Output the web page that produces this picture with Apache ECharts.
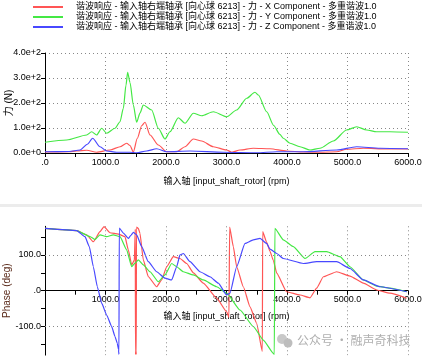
<!DOCTYPE html>
<html><head><meta charset="utf-8">
<script src="https://cdn.jsdelivr.net/npm/echarts@6/dist/echarts.min.js"></script>
<style>html,body{margin:0;padding:0;background:#fff}#c{width:422px;height:358px}</style>
</head><body><div id="c"></div>
<script>
// ---- data ----
const seriesNames = [
  '谐波响应 - 输入轴右端轴承 [向心球 6213] - 力 - X Component - 多重谐波1.0',
  '谐波响应 - 输入轴右端轴承 [向心球 6213] - 力 - Y Component - 多重谐波1.0',
  '谐波响应 - 输入轴右端轴承 [向心球 6213] - 力 - Z Component - 多重谐波1.0'
];
const xAxisName = '输入轴 [input_shaft_rotor] (rpm)';
const forceAxisName = '力 (N)';
const phaseAxisName = 'Phase (deg)';
// force [rpm, N]
const forceX = [[0,4],[400,5],[524,8],[690,11],[854,3],[1074,12],[1240,25],[1350,39],[1405,30],[1460,4],[1526,59],[1600,110],[1653,123],[1736,72],[1873,32],[2011,5],[2177,5],[2314,25],[2452,56],[2590,48],[2782,25],[3003,12],[3086,3],[3223,12],[3443,19],[3719,17],[3994,8],[4270,4],[4545,3],[4821,5],[4986,15],[5262,19],[5648,16],[6000,16]];
const forceY = [[0,43],[358,52],[689,72],[771,85],[854,72],[937,99],[1019,79],[1157,99],[1240,125],[1295,179],[1339,272],[1366,323],[1405,282],[1460,192],[1515,123],[1570,160],[1625,192],[1763,172],[1873,99],[1983,56],[2066,85],[2204,141],[2314,119],[2452,159],[2590,149],[2782,165],[3003,145],[3168,172],[3334,219],[3471,243],[3526,232],[3664,165],[3780,110],[3880,75],[3939,59],[4050,39],[4215,25],[4380,12],[4545,19],[4766,48],[4986,92],[5152,105],[5317,92],[5482,85],[5702,85],[6000,83]];
const forceZ = [[0,5],[400,6],[578,12],[700,35],[788,59],[909,25],[1019,8],[1185,3],[1400,3],[1515,1],[1680,8],[1845,17],[2011,5],[2397,8],[2948,3],[3498,1],[3830,5],[4270,5],[4821,12],[5152,25],[5538,19],[6000,17]];
// phase [rpm, deg]
const phaseX = [[0,174],[524,168],[689,156],[799,137],[909,165],[975,179],[1074,162],[1212,158],[1322,151],[1377,114],[1433,72],[1477,86],[1492,172],[1496,-178],[1502,-165],[1508,-178],[1512,178],[1543,174],[1570,160],[1625,86],[1708,39],[1846,11],[1928,30],[2011,67],[2121,95],[2231,90],[2342,76],[2452,50],[2617,21],[2838,-21],[3003,-59],[3040,-75],[3052,178],[3113,123],[3168,67],[3278,11],[3389,-45],[3499,-91],[3592,-170],[3598,165],[3664,135],[3719,110],[3774,85],[3830,49],[3994,-3],[4215,-12],[4380,-20],[4490,7],[4601,39],[4821,53],[5041,41],[5262,21],[5482,2],[5702,-7],[5978,-21]];
const phaseY = [[0,174],[524,168],[744,151],[826,143],[909,156],[1019,151],[1129,156],[1240,151],[1350,114],[1433,67],[1488,77],[1543,86],[1625,72],[1736,53],[1873,25],[1983,44],[2094,76],[2176,67],[2287,53],[2452,44],[2617,30],[2838,11],[3003,-7],[3223,-54],[3443,-100],[3609,-138],[3774,-175],[3790,-178],[3800,174],[3939,142],[4105,123],[4298,90],[4463,109],[4656,109],[4876,95],[5041,67],[5262,30],[5482,13],[5702,7],[5978,-3]];
const phaseZ = [[0,174],[524,168],[661,151],[733,123],[799,67],[865,11],[937,-35],[1019,-68],[1102,-100],[1157,-128],[1195,-147],[1215,-165],[1222,-178],[1228,175],[1300,160],[1377,146],[1420,155],[1460,163],[1515,156],[1598,123],[1708,81],[1846,53],[1983,35],[2094,30],[2176,67],[2231,100],[2287,104],[2397,81],[2562,53],[2727,39],[2865,21],[3003,-12],[3058,-7],[3168,67],[3306,132],[3443,142],[3554,146],[3664,132],[3719,116],[3830,104],[3939,90],[4270,76],[4490,81],[4821,81],[5041,62],[5262,30],[5538,11],[5978,-3]];
const phaseTicks = [-150,-100,-50,0,50,100,150];
const phaseLabels = [-100,0,100];
const phaseGrid = [-100,100];
const colors = ['#ff5555','#44e844','#4848ff'];

const FONT = '"Liberation Sans Narrow","Liberation Sans",Arial,"Noto Sans CJK SC",sans-serif';
const chart = echarts.init(document.getElementById('c'));
const axisLine = {lineStyle:{color:'#000',width:1}};
const dotted = {show:true,lineStyle:{color:'#888',type:[1,3],width:1}};
const lbl = {color:'#000',fontSize:9,fontFamily:FONT};
const xFmt = v => v === 0 ? '.0' : v.toFixed(1);

function line(name, data, xi, yi, color, extra) {
  return Object.assign({name, type:'line', data, xAxisIndex:xi, yAxisIndex:yi, symbol:'none',
    smooth:0.25, smoothMonotone:'x', lineStyle:{color, width:1.2}, itemStyle:{color}, z:3}, extra||{});
}

chart.setOption({
  animation:false,
  color: colors,
  textStyle:{fontFamily:FONT},
  legend:{
    orient:'vertical', left:33, top:2, padding:0, itemGap:0, itemWidth:30, itemHeight:2, icon:'rect',
    textStyle:{color:'#000',fontSize:9,fontFamily:FONT,lineHeight:10,padding:[0,0,0,8]},
    data: seriesNames
  },
  grid:[
    {left:45, right:14, top:53, height:100, outerBoundsMode:'none', containLabel:false},
    {left:45, right:14, top:226.3, height:128.8, outerBoundsMode:'none', containLabel:false}
  ],
  xAxis:[
    {gridIndex:0, type:'value', min:0, max:6000, interval:1000,
      axisLine, axisTick:{show:true,length:4,lineStyle:{color:'#000'}},
      minorTick:{show:true,splitNumber:2,length:4,lineStyle:{color:'#000'}},
      axisLabel:Object.assign({formatter:xFmt, margin:5}, lbl),
      splitLine:dotted, nameMoveOverlap:false,
      name:xAxisName, nameLocation:'middle', nameGap:24, nameTextStyle:{color:'#000',fontSize:9,fontFamily:FONT}},
    // zero line with ticks
    {gridIndex:1, type:'value', min:0, max:6000, interval:1000,
      axisLine:Object.assign({onZero:true}, axisLine),
      axisTick:{show:true,length:4,lineStyle:{color:'#000'}},
      minorTick:{show:true,splitNumber:2,length:4,lineStyle:{color:'#000'}},
      axisLabel:{show:false}, splitLine:{show:false}},
    // labels, name and grid lines of the phase plot
    {gridIndex:1, type:'value', min:0, max:6000, interval:1000, position:'bottom',
      axisLine:{show:false, onZero:false}, axisTick:{show:false},
      axisLabel:Object.assign({formatter:xFmt, margin:-60, showMinLabel:false}, lbl),
      splitLine:dotted, nameMoveOverlap:false,
      name:xAxisName, nameLocation:'middle', nameGap:-43, nameTextStyle:{color:'#000',fontSize:9,fontFamily:FONT}}
  ],
  yAxis:[
    {gridIndex:0, type:'value', min:0, max:400, interval:100,
      axisLine:Object.assign({show:true}, axisLine),
      axisTick:{show:true,length:4,lineStyle:{color:'#000'}},
      axisLabel:Object.assign({formatter:v => v.toExponential(1), margin:4}, lbl),
      splitLine:dotted, nameMoveOverlap:false,
      name:forceAxisName, nameLocation:'middle', nameGap:31, nameRotate:90,
      nameTextStyle:{color:'#000',fontSize:10,fontFamily:FONT}},
    {gridIndex:1, type:'value', min:-180, max:180,
      axisLine:Object.assign({show:true,onZero:false}, axisLine),
      axisTick:{show:true,length:4,customValues:phaseTicks,lineStyle:{color:'#000'}},
      axisLabel:Object.assign({formatter:v => v === 0 ? '.0' : v.toFixed(1), margin:4, customValues:phaseLabels}, lbl),
      splitLine:{show:false}, nameMoveOverlap:false,
      name:phaseAxisName, nameLocation:'middle', nameGap:33, nameRotate:90,
      nameTextStyle:{color:'#5a2a1a',fontSize:10,fontFamily:FONT}}
  ],
  series:[
    line(seriesNames[0], forceX, 0, 0, colors[0]),
    line(seriesNames[1], forceY, 0, 0, colors[1]),
    line(seriesNames[2], forceZ, 0, 0, colors[2]),
    line(seriesNames[0], phaseX, 1, 1, colors[0], {smooth:0.15}),
    line(seriesNames[1], phaseY, 1, 1, colors[1], {smooth:0.15,
      markLine:{silent:true, symbol:'none', label:{show:false}, animation:false,
        lineStyle:{color:'#888',type:[1,3],width:1},
        data: phaseGrid.map(v => ({yAxis:v}))}}),
    line(seriesNames[2], phaseZ, 1, 1, colors[2], {smooth:0.15})
  ],
  graphic:[
    {type:'rect', shape:{x:0,y:204,width:422,height:3}, style:{fill:'#ececec'}, z:0},
    {type:'circle', shape:{cx:282,cy:339,r:5}, style:{fill:'#c8c8c8'}, z:10},
    {type:'circle', shape:{cx:288,cy:343,r:4.5}, style:{fill:'#bdbdbd'}, z:10},
    {type:'text', left:297, top:334, style:{text:'公众号 · 融声奇科技', fill:'#b0b0b0', fontSize:12, fontFamily:'"Noto Sans CJK SC",sans-serif'}, z:10}
  ]
});
</script></body></html>
